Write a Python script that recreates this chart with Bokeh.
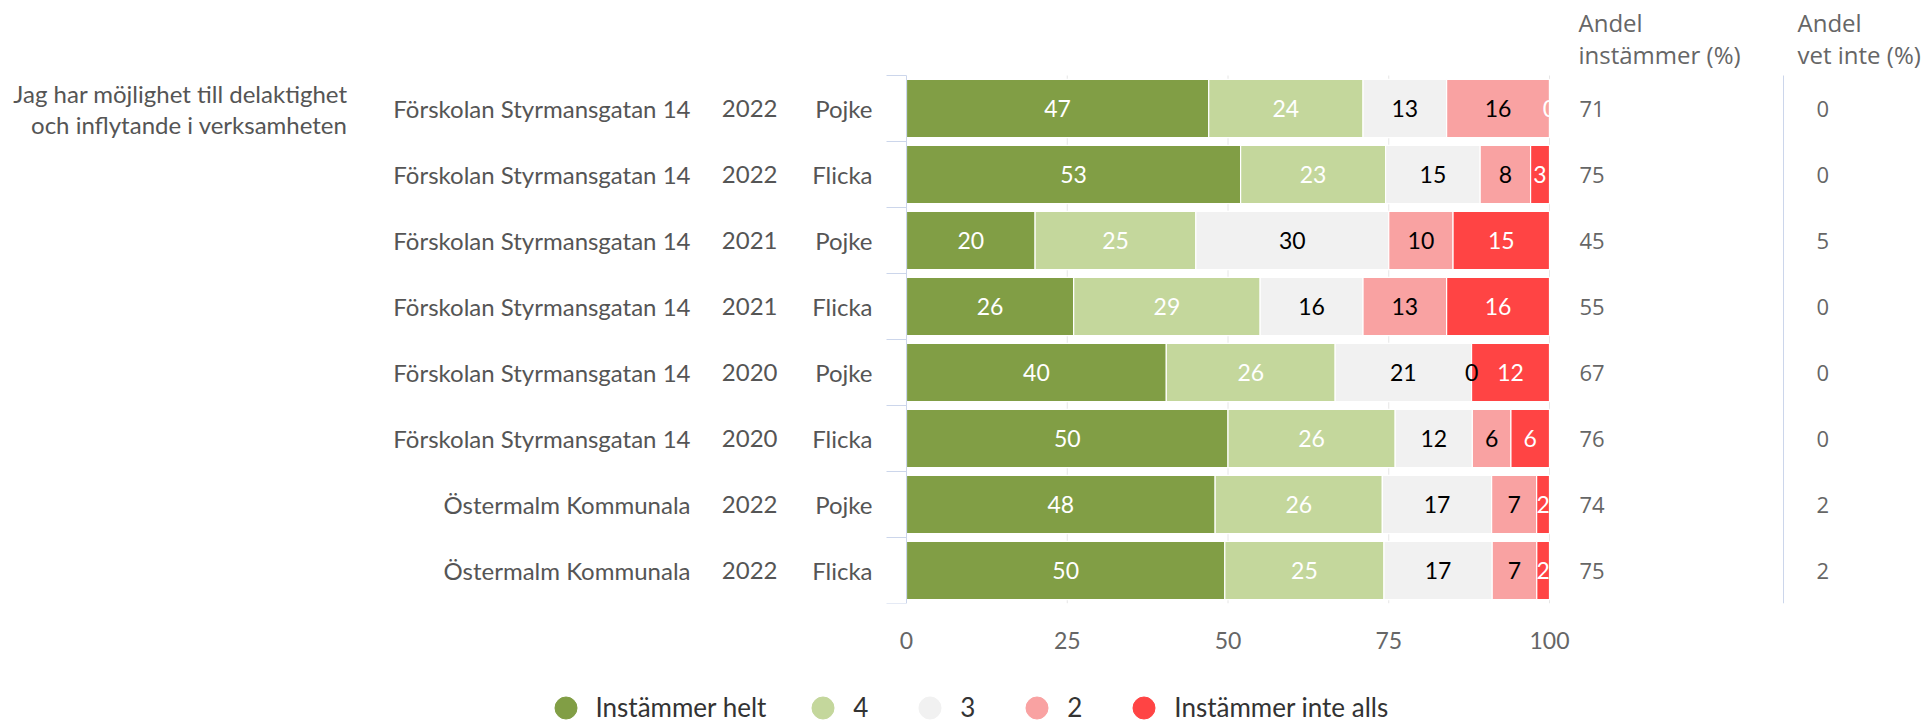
import numpy as np
from bokeh.plotting import figure
from bokeh.layouts import column
from bokeh.models import Range1d, ColumnDataSource, FixedTicker, Legend, LegendItem
from bokeh.embed import file_html
from bokeh.resources import INLINE
from bokeh.core.properties import value

# ---------------- data ----------------
question = ["Jag har möjlighet till delaktighet", "och inflytande i verksamheten"]
units = ["Förskolan Styrmansgatan 14"] * 6 + ["Östermalm Kommunala"] * 2
years = ["2022", "2022", "2021", "2021", "2020", "2020", "2022", "2022"]
genders = ["Pojke", "Flicka", "Pojke", "Flicka", "Pojke", "Flicka", "Pojke", "Flicka"]
series_names = ["Instämmer helt", "4", "3", "2", "Instämmer inte alls"]
helt = [47, 53, 20, 26, 40, 50, 48, 50]
s4 = [24, 23, 25, 29, 26, 26, 26, 25]
s3 = [13, 15, 30, 16, 21, 12, 17, 17]
s2 = [16, 8, 10, 13, 0, 6, 7, 7]
inte = [0, 3, 15, 16, 12, 6, 2, 2]
andel_instammer = [71, 75, 45, 55, 67, 76, 74, 75]
andel_vet_inte = [0, 0, 5, 0, 0, 0, 2, 2]
header_instammer = ["Andel", "instämmer (%)"]
header_vet_inte = ["Andel", "vet inte (%)"]
x_ticks = [0, 25, 50, 75, 100]

colors = ["#819e45", "#c4d79c", "#f1f1f1", "#f9a2a2", "#ff4444"]
label_colors = ["#ffffff", "#ffffff", "#000000", "#000000", "#ffffff"]

# ---------------- layout (pixels) ----------------
W = 1925
H_TOP = 656                  # chart figure height
H_LEG = 724 - H_TOP          # legend strip height
X0_PX = 906                  # pixel position of value 0
PX_PER_PCT = 6.43
ROW_PX = 66.0
ROW0_PX = 108.0              # pixel centre of first row from top
FRAME_BOTTOM = ROW0_PX + 7.5 * ROW_PX
BOTTOM = H_TOP - FRAME_BOTTOM


def xd(px):
    return (px - X0_PX) / PX_PER_PCT


def yd(px):
    return (px - ROW0_PX) / ROW_PX


n = len(units)
rows = list(range(n))
series = [helt, s4, s3, s2, inte]
totals = np.sum(np.array(series, dtype=float), axis=0)
keys = ["v%d" % i for i in range(len(series))]
data = {"row": rows}
for k, s in zip(keys, series):
    data[k] = list(np.array(s, dtype=float) / totals * 100.0)
source = ColumnDataSource(data)

p = figure(width=W, height=H_TOP, output_backend="svg", toolbar_location=None,
           x_range=Range1d(xd(0), xd(W)), y_range=Range1d(yd(FRAME_BOTTOM), yd(0)),
           y_axis_location=None, min_border=0, min_border_bottom=int(BOTTOM),
           outline_line_color=None, background_fill_color="white")
p.xgrid.visible = False
p.ygrid.visible = False

axis_col = "#ccd6eb"
top_edge, bottom_edge = -0.5, n - 0.5

# grid lines (visible in gaps)
gx = x_ticks[1:]
p.segment(x0=gx, x1=gx, y0=[top_edge] * len(gx), y1=[bottom_edge] * len(gx),
          line_color="#e6e6e6", line_width=1)

# stacked bars
p.hbar_stack(keys, y="row", height=0.88, color=colors, source=source,
             line_color="white", line_width=1.2)

# category axis line and ticks
bounds = [r - 0.5 for r in range(n + 1)]
p.segment(x0=[0], x1=[0], y0=[top_edge], y1=[bottom_edge], line_color=axis_col, line_width=1)
p.segment(x0=[xd(X0_PX - 20)] * len(bounds), x1=[0] * len(bounds), y0=bounds, y1=bounds,
          line_color=axis_col, line_width=1)
# separator between the two right-hand columns
p.segment(x0=[xd(1783)], x1=[xd(1783)], y0=[yd(75)], y1=[bottom_edge],
          line_color=axis_col, line_width=1)

# bar value labels
cum = np.zeros(n)
for k, s, lc in zip(keys, series, label_colors):
    w = np.array(data[k])
    mid = cum + w / 2
    cum = cum + w
    p.text(x=list(mid), y=rows, text=[str(v) for v in s], text_align="center",
           text_baseline="middle", text_color=lc, text_font=value("Lato"),
           text_font_size="23px")

FONT = value("Lato")
lab_col = "#555555"
# question text
p.text(x=[xd(347)] * 2, y=[yd(93), yd(124)], text=question, text_align="right",
       text_baseline="middle", text_color=lab_col, text_font=FONT, text_font_size="24px")
# row labels
p.text(x=[xd(690)] * n, y=rows, text=units, text_align="right", text_baseline="middle",
       text_color=lab_col, text_font=FONT, text_font_size="24px")
p.text(x=[xd(777)] * n, y=rows, text=years, text_align="right", text_baseline="middle",
       text_color=lab_col, text_font=FONT, text_font_size="24px")
p.text(x=[xd(872)] * n, y=rows, text=genders, text_align="right", text_baseline="middle",
       text_color=lab_col, text_font=FONT, text_font_size="24px")

# right columns
OS = value("Open Sans")
p.text(x=[xd(1578)] * 2, y=[yd(22), yd(54)], text=header_instammer, text_align="left",
       text_baseline="middle", text_color="#666666", text_font=OS, text_font_size="24px")
p.text(x=[xd(1797)] * 2, y=[yd(22), yd(54)], text=header_vet_inte, text_align="left",
       text_baseline="middle", text_color="#666666", text_font=OS, text_font_size="24px")
p.text(x=[xd(1579)] * n, y=rows, text=[str(v) for v in andel_instammer], text_align="left",
       text_baseline="middle", text_color="#666666", text_font=OS, text_font_size="22px")
p.text(x=[xd(1816)] * n, y=rows, text=[str(v) for v in andel_vet_inte], text_align="left",
       text_baseline="middle", text_color="#666666", text_font=OS, text_font_size="22px")

# x axis
ax = p.xaxis[0]
ax.ticker = FixedTicker(ticks=x_ticks)
ax.axis_line_color = None
ax.major_tick_line_color = None
ax.minor_tick_line_color = None
ax.major_label_standoff = 22
ax.major_label_text_font = "Lato"
ax.major_label_text_font_size = "23px"
ax.major_label_text_color = "#666666"

# ---------------- legend strip ----------------
pl = figure(width=W, height=H_LEG, output_backend="svg", toolbar_location=None,
            x_range=Range1d(0, W), y_range=Range1d(0, H_LEG),
            x_axis_location=None, y_axis_location=None, min_border=0,
            outline_line_color=None, background_fill_color="white")
pl.xgrid.visible = False
pl.ygrid.visible = False
items = []
for name, c in zip(series_names, colors):
    r = pl.scatter(x=[np.nan], y=[np.nan], marker="circle", size=22, fill_color=c, line_color=c)
    items.append(LegendItem(label=name, renderers=[r]))
LEG_CY = 707 - H_TOP          # legend centre, pixels from top of strip
GLYPH = 55
legend = Legend(items=items, orientation="horizontal",
                location=(565 - GLYPH / 2, H_LEG - LEG_CY - GLYPH / 2),
                glyph_width=GLYPH, glyph_height=GLYPH, label_standoff=3, spacing=29,
                padding=0, margin=0, border_line_color=None, background_fill_alpha=0,
                label_text_font="Lato", label_text_font_size="26px",
                label_text_color="#333333", label_text_baseline="middle")
pl.add_layout(legend)

layout = column(p, pl, spacing=0)
open("out.html", "w").write(file_html(layout, INLINE))
